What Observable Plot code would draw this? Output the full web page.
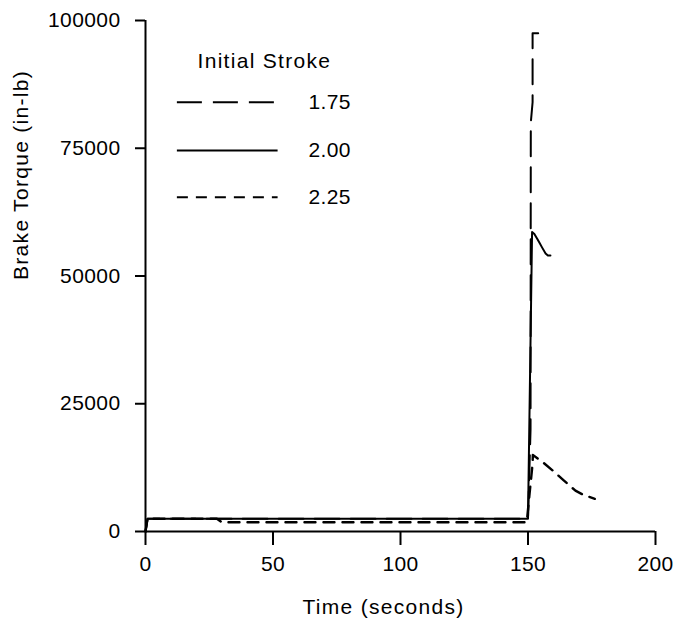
<!DOCTYPE html>
<html><head><meta charset="utf-8">
<script src="https://cdn.jsdelivr.net/npm/d3@7"></script>
<script src="https://cdn.jsdelivr.net/npm/@observablehq/plot@0.6"></script>
<style>body{margin:0;background:#fff} .num text{letter-spacing:0.4px}</style>
</head><body><div id="chart"></div>
<script>
const xTicks = [0, 50, 100, 150, 200];
const yTicks = [0, 25000, 50000, 75000, 100000];
const strokeLabels = ["1.75", "2.00", "2.25"];
const legendTitle = "Initial Stroke";

const time175 = [0, 0.8, 150, 151.0, 151.1, 151.8, 151.8, 154];
const torque175 = [0, 2500, 2500, 20000, 80000, 84000, 97500, 97500];

const time200 = [0, 0.8, 150, 151.6, 152.5, 153.6, 154.5, 155.5, 156.9, 157.8, 158.8];
const torque200 = [0, 2500, 2500, 58600, 58200, 57300, 56500, 55600, 54400, 54000, 54000];

const time225 = [0, 0.8, 28, 30, 149.5, 151.8, 151.9, 156.2, 160, 164, 168.6, 172, 176.2];
const torque225 = [0, 2500, 2500, 1800, 1800, 13300, 15000, 13400, 11800, 10000, 8000, 7100, 6400];

const dashes = ["25,11", null, "11,8"];
const widths = [2, 2, 2.4];
const series = [
  {label: strokeLabels[0], t: time175, v: torque175},
  {label: strokeLabels[1], t: time200, v: torque200},
  {label: strokeLabels[2], t: time225, v: torque225}
].map((s, i) => ({...s, dash: dashes[i], width: widths[i], rows: s.t.map((t, j) => ({t, v: s.v[j]}))}));

// legend layout (in data units, upper-left region of the frame)
const legendRowY = [84000, 74560, 65420];
const legend = strokeLabels.map((label, i) => ({label, y: legendRowY[i], dash: dashes[i]}));

const font = {fontFamily: "'Liberation Sans', Arial, sans-serif", fontSize: "21px", letterSpacing: "1.3px"};

const chart = Plot.plot({
  width: 691,
  height: 621,
  marginLeft: 145,
  marginRight: 36,
  marginTop: 20,
  marginBottom: 90,
  style: {...font, background: "#fff", color: "#000", overflow: "visible"},
  x: {domain: [0, 200]},
  y: {domain: [0, 100000]},
  marks: [
    Plot.axisX({ticks: xTicks, tickSize: 14, tickPadding: 11, strokeWidth: 2, label: null, fill: "#000", stroke: "#000", className: "num"}),
    Plot.axisY({ticks: yTicks, tickSize: 10, tickPadding: 15, strokeWidth: 2, label: null, tickFormat: d3.format("d"), fill: "#000", stroke: "#000", className: "num"}),
    Plot.ruleY([0], {strokeWidth: 2}),
    Plot.ruleX([0], {strokeWidth: 2}),
    ...series.map(s => Plot.line(s.rows, {x: "t", y: "v", stroke: "#000", strokeWidth: s.width, strokeDasharray: s.dash, curve: "linear"})),
    ...legend.map(l => Plot.ruleY([l.y], {x1: 12.5, x2: 52, stroke: "#000", strokeWidth: 2, strokeDasharray: l.dash})),
    Plot.text(legend, {x: 63.9, y: "y", text: "label", textAnchor: "start", lineAnchor: "middle", fill: "#000", className: "num"}),
    Plot.text([legendTitle], {x: 20.4, y: 92030, text: d => d, textAnchor: "start", lineAnchor: "middle", fill: "#000"}),
    Plot.text(["Time (seconds)"], {frameAnchor: "bottom", dx: -17, dy: 76, lineAnchor: "middle", fill: "#000"}),
    Plot.text(["Brake Torque (in-lb)"], {frameAnchor: "left", rotate: -90, dx: -124, dy: 4, lineAnchor: "middle", fill: "#000"})
  ]
});
document.getElementById("chart").appendChild(chart);
</script>
</body></html>
